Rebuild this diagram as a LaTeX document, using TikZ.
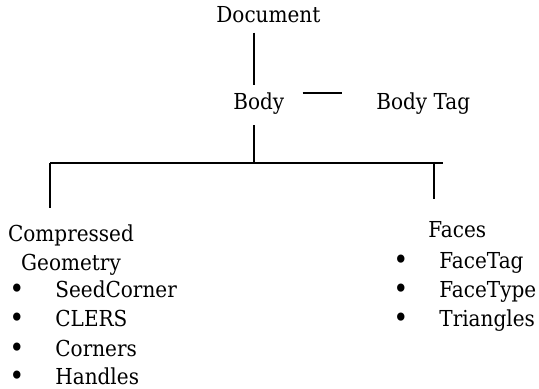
\documentclass[tikz,border=0pt]{standalone}
\usepackage{fontspec}
\setmainfont{DejaVu Serif}[FakeStretch=0.91]
\usepackage{tikz}
\usetikzlibrary{positioning}

\begin{document}
\begin{tikzpicture}[x=0.5pt, y=-0.5pt]
		\tikzstyle{Label}	= [inner sep=0pt, anchor=base west, font=\fontsize{11}{14.75}\selectfont]
		\tikzstyle{Group}	= [Label, align=center, anchor=north]
		\tikzstyle{Item}	= [Label]
		\tikzstyle{Link}	= [line width=1pt]
		\newcommand{\bul}[1]{\makebox[23pt][l]{\raisebox{-0.6pt}{\fontsize{14}{14}\selectfont\textbullet}}#1}

		\useasboundingbox (0,0) rectangle (539,389);

		% tree spine and bus
		\coordinate (spine) at (254,0);
		\coordinate (busL) at (50,163);
		\coordinate (busR) at (443,163);
		\coordinate (tick) at (434,162);

		\node (doc) at (216,23) [Label] {Document};
		\node (body) at (233,110) [Label] {Body};
		\node (tag) at (376,110) [Label] {Body Tag};

		\node (geom) at (71,223) [Group, yshift=-0.5pt] {Compressed\\[-0.2pt]Geometry};
		\node (g1) at (9,297) [Item] {\bul{SeedCorner}};
		\node (g2) at (9,326) [Item] {\bul{CLERS}};
		\node (g3) at (9,356) [Item] {\bul{Corners}};
		\node (g4) at (9,384) [Item] {\bul{Handles}};

		\node (faces) at (428,237) [Label] {Faces};
		\node (f1) at (393,268) [Item] {\bul{FaceTag}};
		\node (f2) at (393,297) [Item] {\bul{FaceType}};
		\node (f3) at (393,326) [Item] {\bul{Triangles}};

		\draw[Link] ([yshift=-4.5pt]doc.south -| spine) -- ([yshift=4pt]body.north -| spine);
		\draw[Link] ([xshift=9pt, yshift=5.5pt]body.east) -- ([xshift=-17pt, yshift=5.5pt]tag.west);
		\draw[Link] ([yshift=-5pt]body.south -| spine) -- (busL -| spine);
		\draw[Link] (busL) -- (busR);
		\draw[Link] (busL) -- ([yshift=8pt]geom.north -| busL);
		\draw[Link] (tick) -- ([yshift=11pt]faces.north -| tick);
	\end{tikzpicture}
\end{document}
